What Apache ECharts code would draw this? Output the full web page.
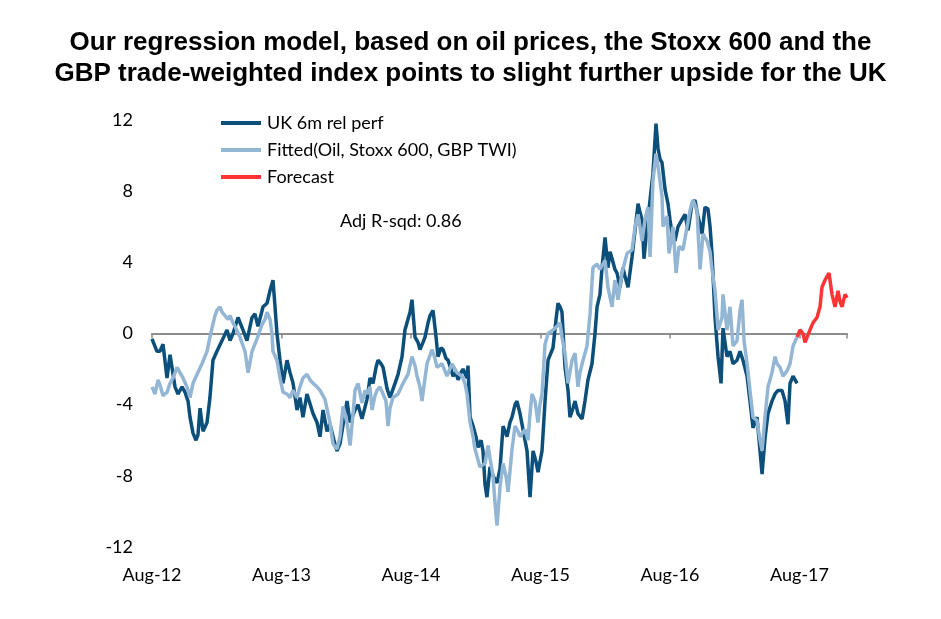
<!DOCTYPE html>
<html><head><meta charset="utf-8">
<script src="https://cdn.jsdelivr.net/npm/echarts@6/dist/echarts.min.js"></script>
<style>html,body{margin:0;padding:0;background:#fff}#c{width:941px;height:619px}</style>
</head><body><div id="c"></div>
<script>
// x values: months since Aug-2012
const xTickLabels = ['Aug-12','Aug-13','Aug-14','Aug-15','Aug-16','Aug-17'];
const yTicks = [-12,-8,-4,0,4,8,12];

const ukMonths = [0,0.46,0.74,1.02,1.39,1.67,1.85,2.13,2.41,2.78,3.06,3.34,3.52,3.80,4.08,4.26,4.45,4.73,5.10,5.37,5.65,6.02,6.49,6.95,7.23,7.51,7.97,8.43,8.80,9.27,9.54,9.82,10.29,10.66,10.93,11.21,11.40,11.58,11.86,12.14,12.51,12.79,13.07,13.44,13.71,13.99,14.36,14.92,15.29,15.57,15.85,16.22,16.49,16.86,17.14,17.42,17.79,18.07,18.35,18.81,19.09,19.46,19.92,20.20,20.48,20.76,20.94,21.22,21.41,21.78,22.05,22.52,22.80,23.17,23.44,23.72,23.91,24.09,24.37,24.65,24.83,25.11,25.30,25.58,25.76,26.04,26.32,26.50,26.78,26.97,27.24,27.43,27.71,27.89,28.17,28.36,28.63,28.82,29.19,29.28,29.47,29.75,30.02,30.21,30.49,30.67,30.86,31.04,31.32,31.60,31.97,32.25,32.53,32.90,33.17,33.36,33.64,33.82,34.10,34.38,34.75,35.03,35.31,35.58,35.77,36.14,36.42,36.70,36.88,37.16,37.44,37.62,37.81,37.99,38.27,38.55,38.73,39.01,39.20,39.47,39.85,40.12,40.40,40.77,41.05,41.24,41.51,41.70,41.98,42.25,42.44,42.63,42.90,43.09,43.37,43.64,43.83,44.11,44.48,44.76,45.04,45.22,45.41,45.59,45.87,46.15,46.42,46.70,46.89,47.07,47.26,47.54,47.81,48.00,48.19,48.46,48.74,49.11,49.39,49.67,50.04,50.31,50.59,50.97,51.24,51.52,51.71,51.89,52.17,52.45,52.73,52.91,53.28,53.56,53.84,54.21,54.49,54.76,55.14,55.41,55.69,56.06,56.34,56.53,56.80,57.08,57.45,57.73,58.01,58.38,58.66,58.93,59.12,59.40,59.77];
const ukValues = [-0.3,-1.0,-1.0,-0.6,-2.5,-1.2,-1.9,-3.0,-3.4,-3.0,-3.3,-3.8,-4.7,-5.6,-6.0,-5.7,-4.2,-5.5,-5.0,-3.6,-1.5,-1.0,-0.4,0.2,-0.4,0.0,0.9,0.2,-0.4,0.9,1.1,0.4,1.5,1.7,2.4,3.0,1.5,0.0,-1.5,-2.8,-1.5,-2.2,-2.8,-4.3,-3.6,-4.7,-3.4,-4.5,-5.0,-5.8,-4.3,-5.5,-5.1,-6.0,-6.6,-6.2,-4.8,-3.8,-5.0,-4.3,-4.0,-4.8,-3.7,-2.5,-2.8,-1.9,-1.5,-1.7,-1.9,-3.1,-3.6,-2.8,-2.3,-1.3,0.2,0.8,1.2,1.9,-0.2,-0.5,-0.9,-0.5,-0.2,0.6,1.0,1.3,-0.2,-1.3,-0.8,-0.9,-1.4,-1.5,-2.0,-2.4,-2.2,-2.6,-2.2,-2.0,-2.5,-1.8,-4.7,-5.2,-5.8,-6.4,-6.0,-6.6,-8.5,-9.2,-7.5,-8.0,-8.4,-7.6,-5.2,-5.8,-5.0,-4.7,-4.0,-3.8,-4.5,-5.4,-6.6,-9.2,-6.6,-7.2,-7.8,-6.6,-3.8,-1.5,-1.5,-0.8,0.8,1.7,1.5,1.2,-1.9,-3.2,-4.7,-4.2,-3.8,-4.5,-4.8,-3.8,-2.6,-1.7,0.0,1.5,2.2,3.7,5.4,3.7,4.6,4.2,3.6,3.4,2.6,3.7,3.2,2.6,4.3,5.8,7.3,6.8,6.4,4.2,6.0,7.5,9.0,11.8,10.4,9.8,9.6,8.1,7.3,6.4,5.6,5.2,6.0,6.4,6.7,5.8,7.3,7.5,6.6,5.6,7.1,7.0,6.0,4.5,0.9,-1.3,-2.8,0.3,-1.3,-1.0,-1.7,-1.5,-1.0,-1.5,-2.4,-3.8,-5.3,-4.7,-6.6,-7.9,-5.9,-4.5,-3.8,-3.4,-3.2,-3.2,-3.8,-5.1,-2.8,-2.4,-2.8];

const fitMonths = [0,0.28,0.56,0.74,1.02,1.39,1.67,1.95,2.32,2.59,2.87,3.24,3.52,3.80,4.17,4.63,5.10,5.37,5.56,5.84,6.02,6.30,6.49,6.76,7.04,7.23,7.51,7.69,8.15,8.62,8.90,9.27,9.73,10.19,10.47,10.66,10.93,11.12,11.21,11.58,11.86,12.14,12.51,12.79,13.07,13.44,13.71,13.99,14.36,14.64,14.92,15.29,15.57,15.85,16.03,16.31,16.49,16.77,17.14,17.42,17.70,18.07,18.35,18.63,18.81,19.09,19.46,19.74,19.92,20.20,20.39,20.66,20.85,21.13,21.41,21.68,21.87,22.05,22.33,22.80,23.26,23.72,24.09,24.37,24.56,24.83,25.02,25.30,25.48,25.95,26.22,26.41,26.87,27.34,27.80,28.26,28.73,29.00,29.19,29.47,29.75,29.93,30.39,30.86,31.14,31.32,31.60,31.78,31.97,32.25,32.53,32.80,32.99,33.36,33.64,33.91,34.10,34.56,34.84,35.03,35.21,35.49,35.77,35.95,36.14,36.42,36.70,37.16,37.53,37.81,37.99,38.27,38.55,38.92,39.20,39.47,39.66,39.94,40.31,40.59,40.86,41.24,41.51,41.98,42.25,42.63,42.90,43.18,43.55,44.02,44.48,44.76,45.04,45.41,45.68,45.96,46.15,46.42,46.70,46.89,47.26,47.35,47.72,47.91,48.28,48.56,48.83,49.20,49.58,49.85,50.13,50.50,50.78,51.06,51.43,51.71,51.89,52.17,52.45,52.82,52.91,53.28,53.56,53.84,54.21,54.49,54.67,54.86,55.14,55.41,55.69,56.06,56.34,56.53,56.80,57.08,57.45,57.73,57.92,58.19,58.47,58.84,59.12,59.40,59.77];
const fitValues = [-3.0,-3.4,-2.6,-2.9,-3.5,-3.3,-2.8,-2.5,-1.9,-2.2,-2.5,-3.0,-3.6,-2.8,-2.3,-1.7,-1.0,-0.2,0.3,1.0,1.3,1.5,1.2,1.0,0.8,1.0,0.6,0.4,-0.2,-1.0,-2.2,-1.0,-0.3,0.5,0.8,1.2,0.8,0.0,-1.0,-1.5,-2.5,-3.3,-3.4,-3.6,-3.2,-3.6,-3.0,-2.5,-2.3,-2.6,-2.8,-3.0,-3.2,-3.5,-3.7,-4.5,-5.0,-6.2,-6.5,-5.8,-4.1,-5.0,-6.3,-4.5,-3.2,-2.8,-3.9,-3.2,-3.4,-3.0,-4.3,-3.5,-3.2,-3.0,-3.4,-3.8,-5.2,-4.2,-3.6,-3.4,-2.8,-2.3,-1.3,-1.8,-2.4,-3.0,-3.8,-2.5,-1.7,-0.9,-1.4,-1.9,-1.7,-2.4,-1.7,-2.2,-2.4,-2.8,-3.4,-5.0,-5.8,-6.5,-7.5,-7.3,-6.3,-7.0,-8.0,-9.5,-10.8,-8.6,-7.3,-8.0,-8.9,-6.5,-5.2,-5.5,-5.8,-5.4,-6.0,-4.5,-3.4,-3.8,-5.0,-4.0,-3.4,-0.6,0.0,0.2,0.4,0.6,-0.2,-1.1,-2.8,-1.5,-1.1,-3.0,-2.2,-1.5,-0.7,1.1,3.7,3.9,3.6,4.1,2.6,1.5,3.0,1.9,3.4,4.5,4.7,6.0,6.7,5.2,6.4,7.1,4.3,8.6,10.1,9.4,7.7,6.0,6.6,4.5,6.0,3.4,4.9,4.7,6.0,6.9,7.5,6.9,3.6,5.6,5.2,4.6,3.6,2.4,0.2,0.9,2.2,0.2,1.5,-0.7,-0.4,1.3,1.9,-0.4,-1.7,-3.2,-4.7,-4.9,-6.0,-6.6,-4.7,-3.0,-2.2,-1.3,-1.7,-1.9,-2.4,-2.1,-1.7,-0.7,-0.2];

const fcMonths = [59.77,60.05,60.32,60.51,60.69,60.97,61.25,61.62,61.90,62.08,62.36,62.73,63.01,63.29,63.57,63.75,63.94,64.22,64.40];
const fcValues = [-0.2,0.2,0.0,-0.5,-0.6,0.2,0.6,0.9,1.5,2.6,3.0,3.4,2.2,1.5,2.4,1.8,1.5,2.2,2.0];

const zip = (a,b) => a.map((x,i)=>[x,b[i]]);
const FONT = 'Lato, "Open Sans", sans-serif';
const chart = echarts.init(document.getElementById('c'), null, {renderer:'canvas'});
chart.setOption({
  animation:false,
  backgroundColor:'#fff',
  title:{
    text:'Our regression model, based on oil prices, the Stoxx 600 and the\nGBP trade-weighted index points to slight further upside for the UK',
    left:'center', top:22,
    textStyle:{fontFamily:'"Liberation Sans", Arial, sans-serif', fontWeight:'bold', fontSize:26, lineHeight:31, color:'#000'}
  },
  legend:{
    orient:'vertical', left:216, top:109, itemWidth:40, itemHeight:4, itemGap:9,
    icon:'rect',
    textStyle:{fontFamily:FONT, fontSize:18, color:'#000', padding:[0,0,0,1]},
    data:['UK 6m rel perf','Fitted(Oil, Stoxx 600, GBP TWI)','Forecast']
  },
  graphic:[{type:'text', left:340, top:212, style:{text:'Adj R-sqd: 0.86', font:'18px '+FONT, fill:'#000'}}],
  grid:{left:152, right:94, top:120, bottom:72},
  xAxis:[{
    type:'value', min:0, max:64.4, interval:12, position:'bottom',
    axisLine:{show:false, onZero:false}, axisTick:{show:false}, splitLine:{show:false},
    axisLabel:{margin:19, fontFamily:FONT, fontSize:18, color:'#000',
      formatter:v=>{const i=Math.round(v/12); return (Math.abs(v-i*12)<1e-6 && xTickLabels[i])?xTickLabels[i]:'';},
      showMaxLabel:false}
  },{
    type:'value', min:0, max:64.4, interval:12, position:'bottom', gridIndex:0,
    axisLine:{show:true, onZero:true, lineStyle:{color:'#8c8c8c', width:2}},
    axisTick:{show:true, length:5, lineStyle:{color:'#8c8c8c', width:1.5}},
    axisLabel:{show:false}, splitLine:{show:false}
  }],
  yAxis:{
    type:'value', min:yTicks[0], max:yTicks[yTicks.length-1], interval:4,
    axisLine:{show:false}, axisTick:{show:false}, splitLine:{show:false},
    axisLabel:{margin:19, fontFamily:FONT, fontSize:18, color:'#000'}
  },
  series:[
    {name:'UK 6m rel perf', type:'line', data:zip(ukMonths,ukValues), showSymbol:false, symbol:'none',
      lineStyle:{color:'#0b4f7a', width:3.5}, itemStyle:{color:'#0b4f7a'}, z:2},
    {name:'Fitted(Oil, Stoxx 600, GBP TWI)', type:'line', data:zip(fitMonths,fitValues), showSymbol:false, symbol:'none',
      lineStyle:{color:'#93b6d4', width:3.5}, itemStyle:{color:'#93b6d4'}, z:3},
    {name:'Forecast', type:'line', data:zip(fcMonths,fcValues), showSymbol:false, symbol:'none',
      lineStyle:{color:'#ff3535', width:3.5}, itemStyle:{color:'#ff3535'}, z:4}
  ]
});
</script></body></html>
